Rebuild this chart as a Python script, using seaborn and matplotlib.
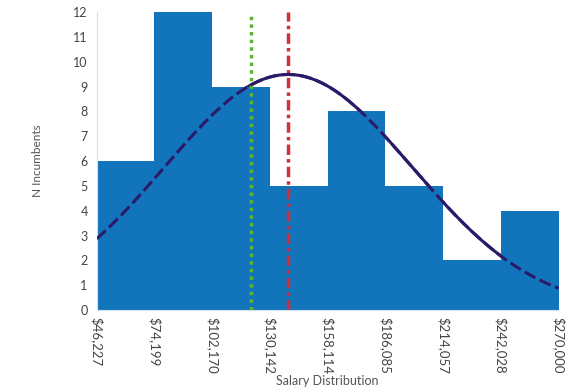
import matplotlib
matplotlib.use("Agg")
import matplotlib.pyplot as plt
import numpy as np
import pandas as pd
import seaborn as sns

# dati
bin_edges = [46227, 74199, 102170, 130142, 158114, 186085, 214057, 242028, 270000]
tick_labels = ["$46,227", "$74,199", "$102,170", "$130,142", "$158,114",
               "$186,085", "$214,057", "$242,028", "$270,000"]
counts = [6, 12, 9, 5, 8, 5, 2, 4]
media = 139000
mediana = 121000
dev_std = 60000

bar_color = "#1274bb"
curve_color = "#2b1a6a"

sns.set_style("white")
plt.rcParams["font.family"] = ["Lato", "DejaVu Sans"]

centri = [(a + b) / 2 for a, b in zip(bin_edges[:-1], bin_edges[1:])]
df = pd.DataFrame({"salario": centri, "n": counts})

fig = plt.figure(figsize=(5.69, 3.88), dpi=100)
ax = fig.add_axes([0.170, 0.201, 0.812, 0.768])

sns.histplot(data=df, x="salario", weights="n", bins=bin_edges, ax=ax,
             color=bar_color, alpha=1, linewidth=0, zorder=2)

# curva normale con media e deviazione standard del campione
n_tot = sum(counts)
larghezza = bin_edges[1] - bin_edges[0]
xs = np.linspace(bin_edges[0], bin_edges[-1], 300)
ys = n_tot * larghezza / (dev_std * np.sqrt(2 * np.pi)) * np.exp(-(xs - media) ** 2 / (2 * dev_std ** 2))
curva = pd.DataFrame({"x": xs, "y": ys})
sns.lineplot(data=curva, x="x", y="y", ax=ax, color=curve_color, lw=2.2, zorder=1)
sns.lineplot(data=curva, x="x", y="y", ax=ax, color=curve_color, lw=2.2,
             dashes=False, linestyle=(0, (4, 1.5)), zorder=4)

ax.axvline(mediana, color="#5fb233", lw=2.5, linestyle=(0, (1, 1.2)), zorder=3)
ax.axvline(media, color="#d12f3a", lw=2.5, linestyle=(0, (3, 1.2, 1, 1.2)), zorder=3)

ax.set_xlim(bin_edges[0], bin_edges[-1])
ax.set_ylim(0, 12)
ax.set_yticks(range(0, 13))
ax.set_xticks(bin_edges)
ax.set_xticklabels(tick_labels, rotation=270, fontsize=9.5, color="#444444")
ax.tick_params(axis="y", labelsize=9, colors="#444444", length=3, color="#cccccc")
ax.tick_params(axis="x", length=3, color="#cccccc", pad=2)

ax.set_xlabel("Salary Distribution", fontsize=9, color="#555555", labelpad=1)
ax.set_ylabel("N Incumbents", fontsize=8.5, color="#555555", labelpad=22)

for lato in ["top", "right"]:
    ax.spines[lato].set_visible(False)
for lato in ["left", "bottom"]:
    ax.spines[lato].set_color("#cde3f0")

fig.savefig("out.png", dpi=100)
